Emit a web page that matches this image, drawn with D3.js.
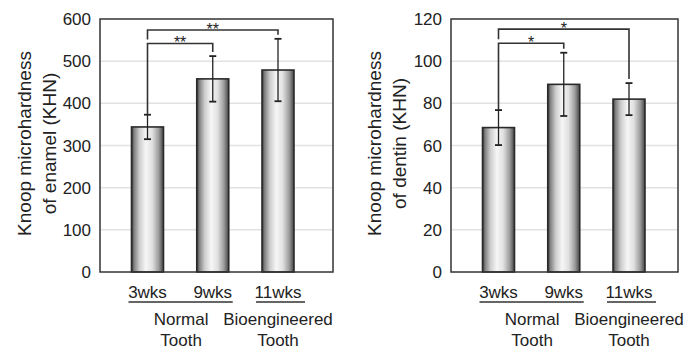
<!doctype html>
<html>
<head>
  <script src="https://cdnjs.cloudflare.com/ajax/libs/d3/7.8.5/d3.min.js"></script>
  <style>
    body { margin: 0; background: #fff; }
    svg text { font-family: "Liberation Sans", Arial, sans-serif; fill: #222; }
  </style>
</head>
<body>
  <svg id="chart" width="689" height="349"></svg>
  <script>
    // data
    var groups = ["3wks", "9wks", "11wks"];
    var enamelMean = [344, 458, 479];
    var enamelErr = [29, 54, 74];
    var dentinMean = [68.5, 89, 82];
    var dentinErr = [8.3, 15, 7.6];
    var enamelTicks = [0, 100, 200, 300, 400, 500, 600];
    var dentinTicks = [0, 20, 40, 60, 80, 100, 120];
    var enamelStars = ["**", "**"];
    var dentinStars = ["*", "*"];
    var enamelBracket = [542, 574];
    var dentinBracket = [108.5, 115.2];
    var toothLabels = [["Normal", "Tooth"], ["Bioengineered", "Tooth"]];

    var svg = d3.select("#chart");

    var grad = svg.append("defs").append("linearGradient")
      .attr("id", "barGrad").attr("x1", "0%").attr("x2", "100%");
    [[0, "#333"], [0.08, "#808080"], [0.25, "#cdcdcd"], [0.45, "#f6f6f6"],
     [0.65, "#e0e0e0"], [0.85, "#9c9c9c"], [1, "#444"]].forEach(s => {
      grad.append("stop").attr("offset", s[0]).attr("stop-color", s[1]);
    });

    function panel(opt) {
      var top = 19, bottom = 272;
      var y = d3.scaleLinear().domain([0, opt.max]).range([bottom, top]);
      var x = d3.scalePoint().domain(groups).range([opt.left + 47.5, opt.left + 178]);
      var bw = 32;
      var g = svg.append("g");

      // grid
      g.selectAll("line.grid").data(opt.ticks.slice(1, -1)).enter().append("line")
        .attr("x1", opt.left).attr("x2", opt.right)
        .attr("y1", d => y(d)).attr("y2", d => y(d))
        .attr("stroke", "#e2e2e2").attr("stroke-width", 1.5);

      // tick labels
      g.selectAll("text.tick").data(opt.ticks).enter().append("text")
        .attr("x", opt.left - 9).attr("y", d => y(d) + 6)
        .attr("text-anchor", "end").style("font-size", "17px")
        .text(d => d);

      // y title
      opt.title.forEach((t, i) => {
        g.append("text")
          .attr("transform", `translate(${opt.titleX[i]},${(top + bottom) / 2 - 2}) rotate(-90)`)
          .attr("text-anchor", "middle").style("font-size", "19px")
          .text(t);
      });

      // bars
      g.selectAll("rect.bar").data(opt.mean).enter().append("rect")
        .attr("x", (d, i) => x(groups[i]) - bw / 2).attr("width", bw)
        .attr("y", d => y(d)).attr("height", d => bottom - y(d))
        .attr("fill", "url(#barGrad)").attr("stroke", "#2a2a2a").attr("stroke-width", 1.6);

      // error bars
      opt.mean.forEach((m, i) => {
        var cx = x(groups[i]);
        g.append("line").attr("x1", cx).attr("x2", cx)
          .attr("y1", y(m + opt.err[i])).attr("y2", y(m - opt.err[i]))
          .attr("stroke", "#222").attr("stroke-width", 1.3);
        [m + opt.err[i], m - opt.err[i]].forEach(v => {
          g.append("line").attr("x1", cx - 3.5).attr("x2", cx + 3.5)
            .attr("y1", y(v)).attr("y2", y(v))
            .attr("stroke", "#222").attr("stroke-width", 1.8);
        });
      });

      // significance brackets
      [1, 2].forEach((j, k) => {
        var by = y(opt.bracket[k]);
        var x0 = x(groups[0]), x1 = x(groups[j]);
        var leftEnd = k === 0 ? y(opt.mean[0] + opt.err[0]) : y(opt.bracket[0]) - 4;
        var rightEnd = y(opt.mean[j] + opt.err[j]) - 4;
        g.append("path")
          .attr("d", `M${x0},${leftEnd}V${by}H${x1}V${rightEnd}`)
          .attr("fill", "none").attr("stroke", "#333").attr("stroke-width", 1.6);
        g.append("text").attr("x", (x0 + x1) / 2).attr("y", by + 5)
          .attr("text-anchor", "middle").style("font-size", "16px")
          .text(opt.stars[k]);
      });

      // frame
      g.append("rect").attr("x", opt.left).attr("y", top)
        .attr("width", opt.right - opt.left).attr("height", bottom - top)
        .attr("fill", "none").attr("stroke", "#333").attr("stroke-width", 1.5);

      // x labels
      g.selectAll("text.grp").data(groups).enter().append("text")
        .attr("x", d => x(d)).attr("y", 298)
        .attr("text-anchor", "middle").style("font-size", "17px")
        .text(d => d);
      var ul = [[x(groups[0]) - 19, x(groups[1]) + 20], [x(groups[2]) - 22, x(groups[2]) + 27]];
      ul.forEach(u => {
        g.append("line").attr("x1", u[0]).attr("x2", u[1]).attr("y1", 302).attr("y2", 302)
          .attr("stroke", "#333").attr("stroke-width", 1.6);
      });
      var cx = [(x(groups[0]) + x(groups[1])) / 2 + 1, x(groups[2]) + 0];
      toothLabels.forEach((lines, i) => {
        lines.forEach((t, k) => {
          g.append("text").attr("x", cx[i]).attr("y", 325 + k * 21)
            .attr("text-anchor", "middle").style("font-size", "17px").text(t);
        });
      });
    }

    panel({ left: 100, right: 333, max: 600, ticks: enamelTicks, mean: enamelMean, err: enamelErr,
      stars: enamelStars, bracket: enamelBracket,
      title: ["Knoop microhardness", "of enamel (KHN)"], titleX: [31, 56] });
    panel({ left: 451, right: 678, max: 120, ticks: dentinTicks, mean: dentinMean, err: dentinErr,
      stars: dentinStars, bracket: dentinBracket,
      title: ["Knoop microhardness", "of dentin (KHN)"], titleX: [381, 406] });
  </script>
</body>
</html>
